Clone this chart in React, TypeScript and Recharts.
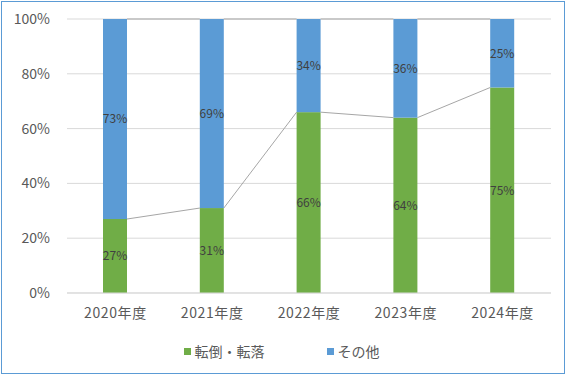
import React from 'react';
import { BarChart, Bar, XAxis, YAxis, CartesianGrid, Legend, LabelList } from 'recharts';

const years = ['2020年度', '2021年度', '2022年度', '2023年度', '2024年度'];
const fallRates = [27, 31, 66, 64, 75];
const otherRates = [73, 69, 34, 36, 25];
const yTicks = [0, 20, 40, 60, 80, 100];

const W = 567;
const H = 376;
const MARGIN = { top: 19, right: 16, left: 0, bottom: 0 };
const Y_AXIS_W = 67;
const GREEN = '#70ad47';
const BLUE = '#5b9bd5';
const SERIES_LINE = '#a6a6a6';
const FONT = '"Noto Sans CJK JP", "Noto Sans", sans-serif';

const chartData = years.map((year, i) => ({
    year,
    fall: fallRates[i],
    other: otherRates[i],
}));

const band = (W - MARGIN.left - MARGIN.right - Y_AXIS_W) / years.length;

// 各棒の右端から次の棒の左端へ系列線を引く
const makeShape = (values: number[], stackedBelow: number[] | null) => (props: any) => {
    const { x, y, width, height, index, fill } = props;
    const bottom = y + height;
    const unit = height / values[index];
    let line = null;
    if (index < values.length - 1) {
        const base = stackedBelow ? stackedBelow[index] : 0;
        const nextBase = stackedBelow ? stackedBelow[index + 1] : 0;
        const zeroY = bottom + base * unit;
        const nextTop = zeroY - (nextBase + values[index + 1]) * unit;
        line = (
            <line x1={x + width} y1={y} x2={x + band} y2={nextTop} stroke={SERIES_LINE} strokeWidth={1} />
        );
    }
    return (
        <g>
            <rect x={x} y={y} width={width} height={height} fill={fill} />
            {line}
        </g>
    );
};

const legendItems = [
    { label: '転倒・転落', color: GREEN },
    { label: 'その他', color: BLUE },
];

const renderLegend = () => (
    <div style={{ display: 'flex', justifyContent: 'center', gap: 62, paddingTop: 8, paddingLeft: 12, fontFamily: FONT, fontSize: 14, color: '#595959' }}>
        {legendItems.map(item => (
            <div key={item.label} style={{ display: 'flex', alignItems: 'center' }}>
                <span style={{ width: 7, height: 7, background: item.color, marginRight: 4, display: 'inline-block' }} />
                {item.label}
            </div>
        ))}
    </div>
);

export default function App() {
    return (
        <div style={{ position: 'absolute', left: 0, top: 0, width: W, height: H, background: '#fff' }}>
            <div style={{ position: 'absolute', left: 1, top: 1, width: W - 5, height: H - 5, border: `1.5px solid ${BLUE}`, pointerEvents: 'none', zIndex: 2 }} />
            <BarChart width={W} height={H} data={chartData} margin={MARGIN} barSize={24}>
                <CartesianGrid vertical={false} stroke="#d9d9d9" />
                <XAxis
                    dataKey="year"
                    axisLine={{ stroke: '#d9d9d9' }}
                    tickLine={false}
                    height={40}
                    tickMargin={9}
                    tick={{ fill: '#595959', fontSize: 14, fontFamily: FONT, letterSpacing: 0.6 }}
                />
                <YAxis
                    width={Y_AXIS_W}
                    domain={[0, 100]}
                    ticks={yTicks}
                    tickFormatter={v => `${v}%`}
                    axisLine={false}
                    tickLine={false}
                    tickMargin={11}
                    tick={{ fill: '#595959', fontSize: 14, fontFamily: FONT }}
                />
                <Legend verticalAlign="bottom" height={43} content={renderLegend} />
                <Bar dataKey="fall" stackId="a" fill={GREEN} isAnimationActive={false} shape={makeShape(fallRates, null)}>
                    <LabelList dataKey="fall" position="center" formatter={(v: any) => `${v}%`} fill="#404040" fontSize={12} fontFamily={FONT} />
                </Bar>
                <Bar dataKey="other" stackId="a" fill={BLUE} isAnimationActive={false} shape={makeShape(otherRates, fallRates)}>
                    <LabelList dataKey="other" position="center" formatter={(v: any) => `${v}%`} fill="#404040" fontSize={12} fontFamily={FONT} />
                </Bar>
            </BarChart>
        </div>
    );
}
